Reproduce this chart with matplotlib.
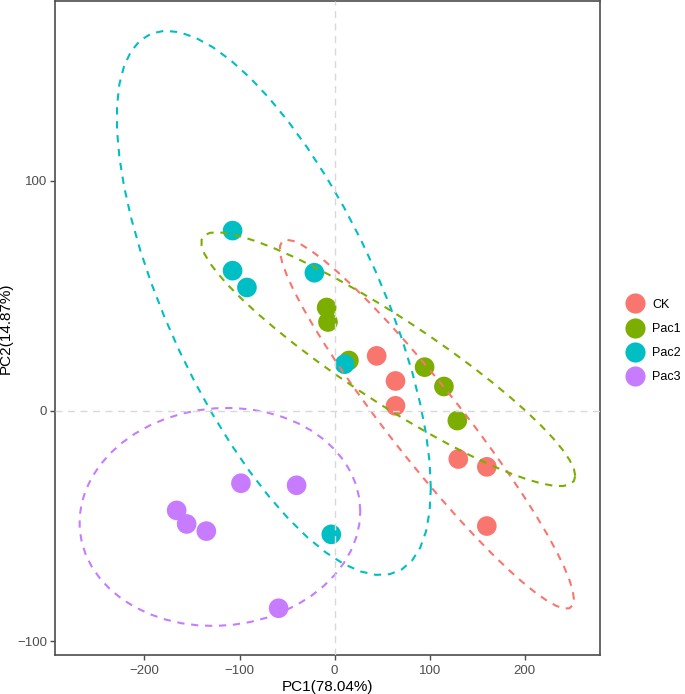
import numpy as np
import matplotlib
matplotlib.use("Agg")
import matplotlib.pyplot as plt
from matplotlib.lines import Line2D

plt.rcParams['font.family'] = ['Liberation Sans', 'DejaVu Sans']

groups = ["CK", "Pac1", "Pac2", "Pac3"]
colors = ["#F8766D", "#7CAE00", "#00BFC4", "#C77CFF"]

ck_x = [44.2, 64.0, 64.0, 130.0, 160.0, 160.0]
ck_y = [23.9, 13.0, 2.2, -20.9, -24.3, -50.0]
pac1_x = [-8.4, -7.0, 15.0, 94.6, 114.9, 129.0]
pac1_y = [44.9, 38.6, 21.9, 19.0, 10.6, -4.2]
pac2_x = [-107.3, -107.3, -92.2, -21.3, 10.5, -3.5]
pac2_y = [78.3, 60.9, 53.6, 60.0, 20.3, -53.6]
pac3_x = [-98.5, -40.0, -166.1, -155.6, -134.9, -58.9]
pac3_y = [-31.4, -32.3, -43.2, -49.1, -52.2, -85.7]

xs = [ck_x, pac1_x, pac2_x, pac3_x]
ys = [ck_y, pac1_y, pac2_y, pac3_y]

x_ticks = [-200, -100, 0, 100, 200]
y_ticks = [-100, 0, 100]


def cov_trob(X, nu=5, maxit=25, tol=0.01):
    n, p = X.shape
    loc = X.mean(axis=0)
    w = np.ones(n)
    for _ in range(maxit):
        w0 = w
        Xc = X - loc
        sw = np.sqrt(w / w.sum())
        _, d, vt = np.linalg.svd(sw[:, None] * Xc, full_matrices=False)
        wX = Xc @ vt.T @ np.diag(1.0 / d)
        Q = (wX ** 2).sum(axis=1)
        w = (nu + p) / (nu + Q)
        loc = (w[:, None] * X).sum(axis=0) / w.sum()
        if np.all(np.abs(w - w0) < tol):
            break
    cov = (np.sqrt(w)[:, None] * Xc).T @ (np.sqrt(w)[:, None] * Xc) / n
    return loc, cov


def ellipse_pts(x, y, level=0.95, segments=51):
    X = np.column_stack([x, y])
    n = len(x)
    center, shape = cov_trob(X)
    dfd = n - 1
    fq = dfd / 2.0 * ((1 - level) ** (-2.0 / dfd) - 1)
    radius = np.sqrt(2 * fq)
    ang = np.linspace(0, 2 * np.pi, segments + 1)
    uc = np.column_stack([np.cos(ang), np.sin(ang)])
    chol = np.linalg.cholesky(shape).T  # upper triangular like R chol
    e = center + radius * (uc @ chol)
    return e[:, 0], e[:, 1]


fig = plt.figure(figsize=(6.85, 6.94), dpi=100)
ax = fig.add_axes([55 / 685, 39 / 694, 545 / 685, 654 / 694])

for gx, gy, c in zip(xs, ys, colors):
    ax.scatter(gx, gy, s=200, color=c, edgecolors='none', zorder=2)

for gx, gy, c in zip(xs, ys, colors):
    ex, ey = ellipse_pts(np.array(gx), np.array(gy))
    ax.plot(ex, ey, color=c, lw=1.5, linestyle=(0, (3.5, 3.2)), zorder=3)

ax.axhline(0, color='#D9D9D9', lw=1.0, linestyle=(0, (5, 4)), zorder=4)
ax.axvline(0, color='#D9D9D9', lw=1.0, linestyle=(0, (5, 4)), zorder=4)

ax.set_xlim(-294, 279)
ax.set_ylim(-106, 178)
ax.set_xticks(x_ticks)
ax.set_yticks(y_ticks)
ax.set_xticklabels(["\u2212200", "\u2212100", "0", "100", "200"])
ax.set_yticklabels(["\u2212100", "0", "100"])
ax.tick_params(axis='both', colors='#4D4D4D', labelsize=9.5, length=3.5, width=1)
ax.tick_params(axis='y', pad=2)
for sp in ax.spines.values():
    sp.set_color('#4D4D4D')
    sp.set_linewidth(1.2)
ax.set_xlabel("PC1(78.04%)", fontsize=11, labelpad=2)
ax.set_ylabel("PC2(14.87%)", fontsize=11)
ax.yaxis.set_label_coords(-0.077, 0.5)

handles = [Line2D([], [], marker='o', linestyle='none', markersize=14.5,
                  markerfacecolor=c, markeredgecolor='none', label=g)
           for g, c in zip(groups, colors)]
fig.legend(handles=handles, loc='center left', bbox_to_anchor=(628.75 / 685, 1 - 341 / 694),
           frameon=False, fontsize=9, handletextpad=0.86, labelspacing=0.98,
           borderpad=0, borderaxespad=0, handlelength=1.0)

fig.savefig("out.png", dpi=100)
